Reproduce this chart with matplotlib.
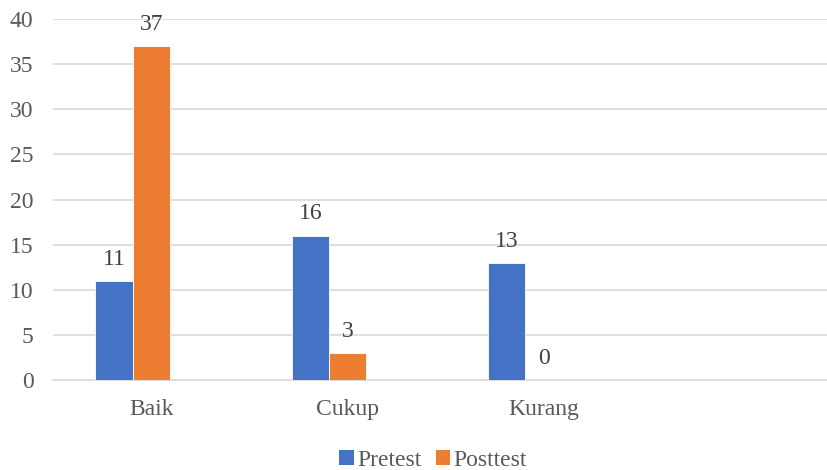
import numpy as np
import matplotlib
matplotlib.use('Agg')
import matplotlib.pyplot as plt
from matplotlib.patches import Patch

# data
categories = ['Baik', 'Cukup', 'Kurang']
pretest = [11, 16, 13]
posttest = [37, 3, 0]
y_ticks = [0, 5, 10, 15, 20, 25, 30, 35, 40]

BLUE = '#4472C4'
ORANGE = '#ED7D31'
GRID = '#D9D9D9'
TXT = '#595959'

plt.rcParams['font.family'] = ['Liberation Serif', 'DejaVu Serif']

fig = plt.figure(figsize=(8.27, 4.70), dpi=100)
ax = fig.add_axes([53 / 827, 90 / 470, 1 - 53 / 827, 361 / 470])

x = np.arange(len(categories))
w = 0.19
b1 = ax.bar(x - w, pretest, w, color=BLUE, edgecolor='white', linewidth=0.6, zorder=3)
b2 = ax.bar(x, posttest, w, color=ORANGE, edgecolor='white', linewidth=0.6, zorder=3)

for bars, vals in ((b1, pretest), (b2, posttest)):
    for r, v in zip(bars, vals):
        ax.annotate(str(v), (r.get_x() + r.get_width() / 2, v),
                    xytext=(0, 8), textcoords='offset points',
                    ha='center', va='bottom', fontsize=17, color='#404040')

# 4 slots, the last one cut by the image edge
ax.set_xlim(-0.5, 3.44)
ax.set_ylim(0, 40)
ax.set_yticks(y_ticks)
ax.set_xticks(x + 0.0)
ax.set_xticklabels(categories)
ax.yaxis.grid(True, color=GRID, linewidth=1.2, zorder=0)
ax.set_axisbelow(True)
for s in ['top', 'right', 'left']:
    ax.spines[s].set_visible(False)
ax.spines['bottom'].set_color(GRID)
ax.spines['bottom'].set_linewidth(1.2)
ax.tick_params(axis='both', length=0, labelsize=17, labelcolor=TXT)
ax.tick_params(axis='y', pad=14)
ax.tick_params(axis='x', pad=14)

handles = [Patch(facecolor=BLUE), Patch(facecolor=ORANGE)]
fig.legend(handles, ['Pretest', 'Posttest'], loc='center',
           bbox_to_anchor=(433 / 827, 1 - 460 / 470), ncol=2, frameon=False,
           fontsize=17, labelcolor=TXT, handlelength=0.6, handleheight=0.6,
           handletextpad=0.15, columnspacing=0.6)

fig.savefig('out.png', dpi=100)
